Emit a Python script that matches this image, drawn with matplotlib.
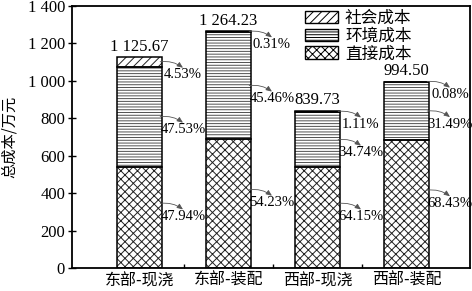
import matplotlib
matplotlib.use('Agg')
import matplotlib.pyplot as plt
from matplotlib.patches import Patch
from matplotlib.ticker import FixedLocator, FuncFormatter

# ---- data ----
categories = ['东部-现浇', '东部-装配', '西部-现浇', '西部-装配']
totals = [1125.67, 1264.23, 839.73, 994.50]
direct_pct = [47.94, 54.23, 64.15, 68.43]
env_pct = [47.53, 45.46, 34.74, 31.49]
social_pct = [4.53, 0.31, 1.11, 0.08]
series_names = ['社会成本', '环境成本', '直接成本']
yticks = [0, 200, 400, 600, 800, 1000, 1200, 1400]

direct = [t * p / 100 for t, p in zip(totals, direct_pct)]
env = [t * p / 100 for t, p in zip(totals, env_pct)]
social = [t * p / 100 for t, p in zip(totals, social_pct)]

serif = ['Liberation Serif', 'DejaVu Serif']
cjk = ['Noto Sans CJK SC', 'DejaVu Sans']

plt.rcParams['hatch.linewidth'] = 0.7

fig = plt.figure(figsize=(4.72, 2.91), dpi=100)
ax = fig.add_axes([0.1525, 0.079, 0.843, 0.902])

x = list(range(len(categories)))
w = 0.506

hatches = {'direct': 'xxxx', 'env': '------', 'social': '////'}
hcolors = {'direct': '#222222', 'env': '#505050', 'social': '#222222'}

bottoms = [0.0] * 4
segs = []
for key, vals in [('direct', direct), ('env', env), ('social', social)]:
    ax.bar(x, vals, bottom=bottoms, width=w, color='white',
           edgecolor=hcolors[key], hatch=hatches[key], linewidth=0, zorder=2)
    ax.bar(x, vals, bottom=bottoms, width=w, fill=False,
           edgecolor='black', linewidth=1.1, zorder=3)
    segs.append((key, list(bottoms), vals))
    bottoms = [b + v for b, v in zip(bottoms, vals)]

pct_map = {'direct': direct_pct, 'env': env_pct, 'social': social_pct}
for key, bots, vals in segs:
    for i in x:
        right = i + w / 2
        mid = bots[i] + vals[i] / 2
        if key == 'direct':
            ystart = mid + 14 / 262 * 1400
        else:
            ystart = mid
        yend = ystart - 6 / 262 * 1400
        xend = right + 21 / 89
        ax.annotate('', xy=(xend, yend), xytext=(right - 0.02, ystart),
                    arrowprops=dict(arrowstyle='-|>,head_length=0.35,head_width=0.15',
                                    color='#555555', lw=0.6,
                                    connectionstyle='arc3,rad=-0.2',
                                    shrinkA=0, shrinkB=0), zorder=5)
        ax.text(xend, ystart - 13 / 262 * 1400, f'{pct_map[key][i]:.2f}%',
                ha='center', va='center', fontsize=10.5, family=serif, zorder=6)

for i in x:
    s = f'{totals[i]:,.2f}'.replace(',', ' ')
    ax.annotate(s, xy=(i, totals[i]), xytext=(0, 1.5), textcoords='offset points',
                ha='center', va='bottom', fontsize=12, family=serif)

ax.set_xlim(-0.758, 3.713)
ax.set_ylim(0, 1400)
ax.yaxis.set_major_locator(FixedLocator(yticks))
ax.yaxis.set_major_formatter(FuncFormatter(lambda v, p: f'{int(v):,}'.replace(',', ' ')))
ax.set_xticks(x)
ax.set_xticklabels(categories, family=cjk, fontsize=11.5)
ax.set_xticks([0.5, 1.5, 2.5], minor=True)
ax.tick_params(axis='x', which='both', direction='in', length=3, width=1, pad=3)
ax.tick_params(axis='y', direction='inout', length=6, width=1, pad=2)
for lab in ax.get_yticklabels():
    lab.set_family(serif)
    lab.set_fontsize(12)
for sp in ax.spines.values():
    sp.set_linewidth(1.3)

ax.set_ylabel('总成本/万元', family=cjk, fontsize=11)
ax.yaxis.set_label_coords(-0.135, 0.5)

handles = [Patch(facecolor='white', edgecolor='black', hatch=hatches[k], linewidth=1)
           for k in ['social', 'env', 'direct']]
ax.legend(handles, series_names, loc='upper left', bbox_to_anchor=(0.552, 1.035),
          frameon=False, prop={'family': cjk, 'size': 12}, handlelength=2.0,
          handleheight=0.75, labelspacing=0.05, handletextpad=0.4, borderpad=0.3)

fig.savefig('out.png', dpi=100)
